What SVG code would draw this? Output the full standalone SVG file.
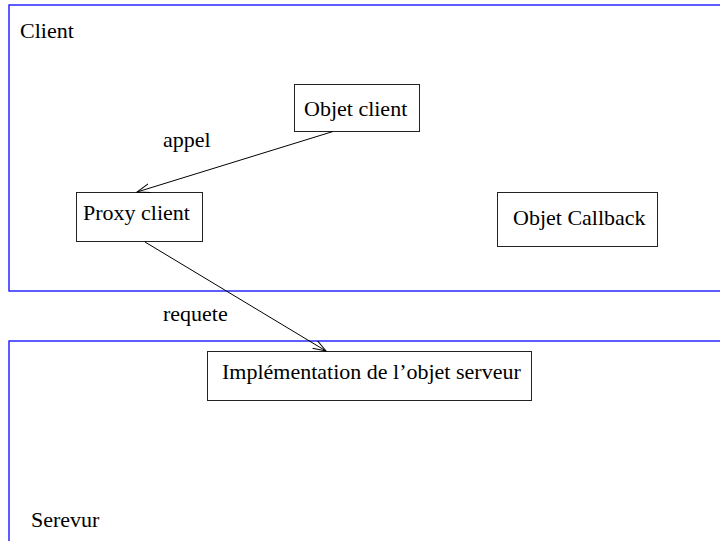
<svg xmlns="http://www.w3.org/2000/svg" width="720" height="541" viewBox="0 0 720 541">
  <defs>
    <marker id="open-arrow" markerUnits="userSpaceOnUse" markerWidth="14" markerHeight="10" refX="13" refY="4.5" orient="auto">
      <path d="M0,0 L13,4.5 L0,9" fill="none" stroke="#000000" stroke-width="1"/>
    </marker>
  </defs>

  <!-- Client zone -->
  <g id="zone-client">
    <rect x="9" y="5" width="720" height="286" fill="none" stroke="#1a1aff" stroke-width="1.4"/>
    <text x="20" y="38" font-family="Liberation Serif" font-size="22">Client</text>
  </g>

  <!-- Server zone -->
  <g id="zone-serveur">
    <rect x="9" y="341" width="720" height="220" fill="none" stroke="#1a1aff" stroke-width="1.4"/>
    <text x="31" y="527" font-family="Liberation Serif" font-size="22">Serevur</text>
  </g>

  <g id="objet-client">
    <rect x="294.5" y="84.5" width="125" height="47" fill="#ffffff" stroke="#222222" stroke-width="1"/>
    <text x="304" y="116" font-family="Liberation Serif" font-size="22">Objet client</text>
  </g>

  <g id="proxy-client">
    <rect x="76.5" y="192.5" width="126" height="49" fill="#ffffff" stroke="#222222" stroke-width="1"/>
    <text x="83" y="220" font-family="Liberation Serif" font-size="22">Proxy client</text>
  </g>

  <g id="objet-callback">
    <rect x="497.5" y="192.5" width="160" height="54" fill="#ffffff" stroke="#222222" stroke-width="1"/>
    <text x="513" y="225" font-family="Liberation Serif" font-size="22">Objet Callback</text>
  </g>

  <g id="objet-serveur">
    <rect x="207.5" y="351.5" width="324" height="49" fill="#ffffff" stroke="#222222" stroke-width="1"/>
    <text x="222" y="379" font-family="Liberation Serif" font-size="22">Implémentation de l’objet serveur</text>
  </g>

  <g id="connectors">
    <line x1="333" y1="131.5" x2="137" y2="192" stroke="#000000" stroke-width="1" marker-end="url(#open-arrow)"/>
    <text x="163" y="147" font-family="Liberation Serif" font-size="22">appel</text>
    <line x1="145" y1="242" x2="326" y2="351" stroke="#000000" stroke-width="1" marker-end="url(#open-arrow)"/>
    <text x="163" y="321" font-family="Liberation Serif" font-size="22">requete</text>
  </g>
</svg>
